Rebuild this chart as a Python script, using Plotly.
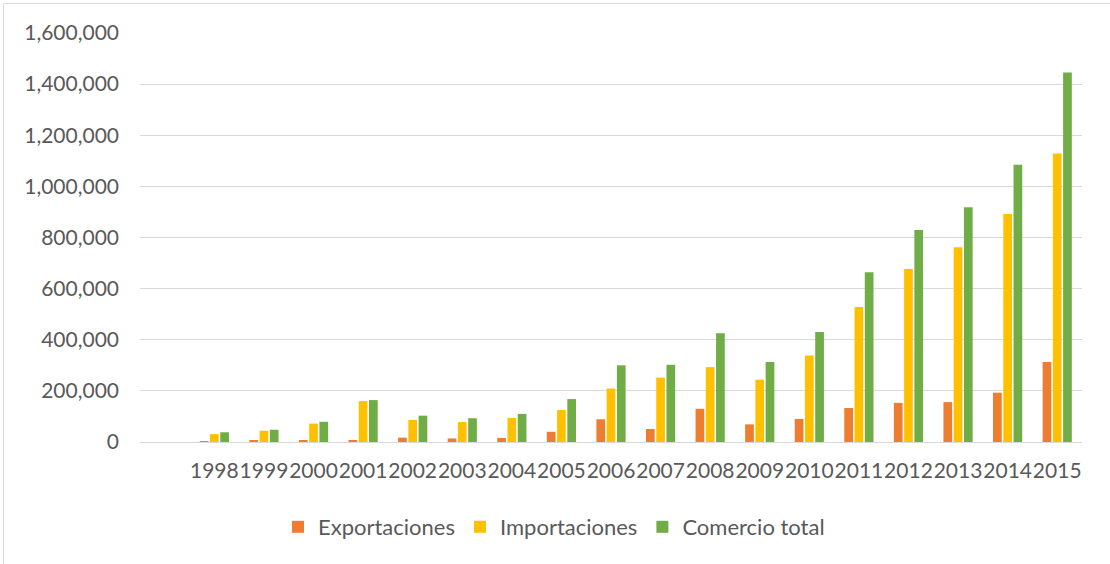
import plotly.graph_objects as go

years = [1998, 1999, 2000, 2001, 2002, 2003, 2004, 2005, 2006, 2007, 2008,
         2009, 2010, 2011, 2012, 2013, 2014, 2015]
exportaciones = [3000, 4000, 8000, 5000, 17000, 14000, 16000, 40000, 89000, 51000,
                 130000, 69000, 90000, 133000, 153000, 156000, 193000, 313000]
importaciones = [31000, 44000, 72000, 160000, 86000, 78000, 94000, 125000, 209000,
                 252000, 293000, 244000, 338000, 528000, 677000, 762000, 892000, 1129000]
comercio_total = [38000, 48000, 79000, 164000, 103000, 93000, 110000, 168000, 300000,
                  302000, 425000, 313000, 430000, 664000, 829000, 918000, 1085000, 1445000]
y_ticks = [0, 200000, 400000, 600000, 800000, 1000000, 1200000, 1400000, 1600000]

FONT = "Lato"
TXT = "#595959"

fig = go.Figure()
fig.add_trace(go.Bar(x=years, y=exportaciones, name="Exportaciones",
                     marker=dict(color="#ED7D31", line=dict(width=0))))
fig.add_trace(go.Bar(x=years, y=importaciones, name="Importaciones",
                     marker=dict(color="#FFC000", line=dict(width=0))))
fig.add_trace(go.Bar(x=years, y=comercio_total, name="Comercio total",
                     marker=dict(color="#70AD47", line=dict(width=0))))

W, H = 1110, 564
L, R, T, B = 140, 28, 33, 122
pw, ph = W - L - R, H - T - B

def px(xp):
    return (xp - L) / pw

def py(yp):
    return (H - B - yp) / ph

fig.update_layout(
    width=W, height=H,
    margin=dict(l=L, r=R, t=T, b=B, pad=0),
    paper_bgcolor="white", plot_bgcolor="white",
    barmode="group", bargap=0.38, bargroupgap=0.15,
    font=dict(family=FONT, size=21, color=TXT),
    xaxis=dict(range=[1996.5, 2015.5], tickmode="array", tickvals=years,
               ticktext=[str(y) for y in years], tickangle=0,
               showgrid=False, zeroline=False, showline=False, ticks="",
               ticklabelstandoff=14, tickfont=dict(family=FONT, size=21, color=TXT)),
    yaxis=dict(range=[0, 1600000], tickmode="array", tickvals=y_ticks,
               ticktext=[f"{v:,}" for v in y_ticks],
               showgrid=True, gridcolor="#D9D9D9", gridwidth=1,
               zeroline=True, zerolinecolor="#D9D9D9", zerolinewidth=1,
               showline=False, ticks="", ticklabelstandoff=20,
               tickfont=dict(family=FONT, size=21, color=TXT)),
    legend=dict(orientation="h", x=px(554), xanchor="center", y=py(527),
                yanchor="middle", font=dict(family=FONT, size=22, color=TXT),
                bgcolor="rgba(0,0,0,0)", itemclick=False),
    showlegend=True,
    shapes=[dict(type="rect", xref="paper", yref="paper",
                 x0=px(3.5), x1=px(1120), y0=py(575), y1=py(3.5),
                 line=dict(color="#D9D9D9", width=1), fillcolor="rgba(0,0,0,0)",
                 layer="below")],
)

fig.write_html("out.html")
